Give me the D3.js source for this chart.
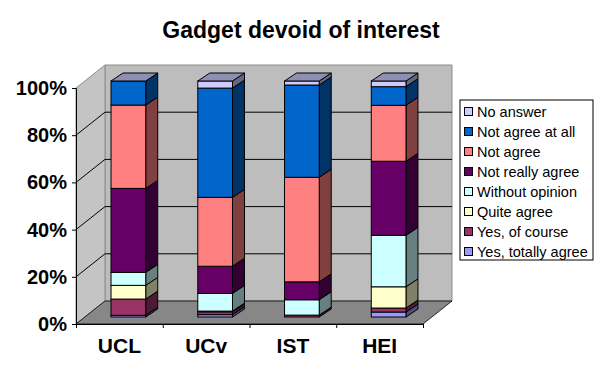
<!DOCTYPE html>
<html>
<head>
<meta charset="utf-8">
<script src="https://cdn.jsdelivr.net/npm/d3@7"></script>
<style>
  body { margin: 0; background: #fff; }
  svg { display: block; font-family: Arial, "Liberation Sans", sans-serif; }
</style>
</head>
<body>
<div id="chart"></div>
<script>
// categories and stacked series, bottom to top, in percent
var categories = ["UCL", "UCv", "IST", "HEI"];
var seriesNames = ["Yes, totally agree", "Yes, of course", "Quite agree", "Without opinion",
                   "Not really agree", "Not agree", "Not agree at all", "No answer"];
var yesTotally   = [0.7, 1.0, 0.0, 2.1];
var yesOfCourse  = [6.9, 1.2, 0.8, 1.7];
var quiteAgree   = [5.8, 0.3, 0.0, 9.0];
var noOpinion    = [5.5, 7.5, 6.5, 21.8];
var notReally    = [35.6, 11.5, 7.6, 31.4];
var notAgree     = [35.3, 29.2, 44.3, 23.7];
var notAtAll     = [10.2, 46.3, 39.1, 7.9];
var noAnswer     = [0.0, 3.0, 1.7, 2.4];
var seriesValues = [yesTotally, yesOfCourse, quiteAgree, noOpinion, notReally, notAgree, notAtAll, noAnswer];
var seriesColors = ["#9999FF", "#993366", "#FFFFCC", "#CCFFFF", "#660066", "#FF8080", "#0066CC", "#CCCCFF"];
var yTicks = [0, 20, 40, 60, 80, 100];

var width = 605, height = 376;
var svg = d3.select("#chart").append("svg").attr("width", width).attr("height", height);

var x = d3.scaleBand().domain(categories).range([76, 423]).paddingInner(0.6).paddingOuter(0.3);
var y = d3.scaleLinear().domain([0, 100]).range([324, 88]);
var xEdge = d3.scaleLinear().domain([0, categories.length]).range([76, 423]);

// depth offsets: wall back, bar front, bar back
var wallDx = 29, wallDy = -23;
var frontDx = 9, frontDy = -7;
var backDx = 21, backDy = -15;

function shade(c, k) {
  var r = d3.rgb(c);
  return d3.rgb(r.r * k, r.g * k, r.b * k).formatHex();
}
function pts(a) { return a.map(function (p) { return p.join(","); }).join(" "); }

var x0 = xEdge(0), x1 = xEdge(categories.length);

// walls and floor
var walls = svg.append("g");
walls.append("polygon")
  .attr("points", pts([[x0 + wallDx, y(100) + wallDy], [x1 + wallDx, y(100) + wallDy],
                       [x1 + wallDx, y(0) + wallDy], [x0 + wallDx, y(0) + wallDy]]))
  .attr("fill", "#bdbdbd").attr("stroke", "#8c8c8c");
walls.append("polygon")
  .attr("points", pts([[x0, y(100)], [x0 + wallDx, y(100) + wallDy],
                       [x0 + wallDx, y(0) + wallDy], [x0, y(0)]]))
  .attr("fill", "#c4c4c4").attr("stroke", "#8c8c8c");
walls.append("polygon")
  .attr("points", pts([[x0, y(0)], [x0 + wallDx, y(0) + wallDy],
                       [x1 + wallDx, y(0) + wallDy], [x1, y(0)]]))
  .attr("fill", "#878787").attr("stroke", "#000").attr("stroke-width", 0.8);

// gridlines on back and left walls
var grid = yTicks.filter(function (t) { return t > 0 && t < 100; });
walls.selectAll("line.gb").data(grid).enter().append("line")
  .attr("x1", x0 + wallDx).attr("x2", x1 + wallDx)
  .attr("y1", function (d) { return y(d) + wallDy; })
  .attr("y2", function (d) { return y(d) + wallDy; })
  .attr("stroke", "#000").attr("stroke-width", 1);
walls.selectAll("line.gl").data(grid).enter().append("line")
  .attr("x1", x0).attr("x2", x0 + wallDx)
  .attr("y1", function (d) { return y(d); })
  .attr("y2", function (d) { return y(d) + wallDy; })
  .attr("stroke", "#000").attr("stroke-width", 1);

// stacked 3D bars
var stackData = categories.map(function (c, i) {
  var o = { cat: c };
  seriesNames.forEach(function (s, j) { o[s] = seriesValues[j][i]; });
  return o;
});
var stacked = d3.stack().keys(seriesNames)(stackData);

var bars = svg.append("g");
categories.forEach(function (cat, i) {
  var g = bars.append("g");
  var xl = x(cat) + frontDx, xr = x(cat) + x.bandwidth() + frontDx;
  stacked.forEach(function (layer, j) {
    var d = layer[i];
    if (d[1] - d[0] <= 0) return;
    var ya = y(d[0]) + frontDy, yb = y(d[1]) + frontDy;
    var col = seriesColors[j];
    g.append("polygon")
      .attr("points", pts([[xr, ya], [xr, yb], [xr + backDx - frontDx, yb + backDy - frontDy],
                           [xr + backDx - frontDx, ya + backDy - frontDy]]))
      .attr("fill", shade(col, 0.5)).attr("stroke", "#000").attr("stroke-width", 1);
    g.append("rect")
      .attr("x", xl).attr("y", yb).attr("width", xr - xl).attr("height", ya - yb)
      .attr("fill", col).attr("stroke", "#000").attr("stroke-width", 1);
  });
  var top = y(100) + frontDy;
  var ddx = backDx - frontDx, ddy = backDy - frontDy;
  g.append("polygon")
    .attr("points", pts([[xl, top], [xr, top], [xr + ddx, top + ddy], [xl + ddx, top + ddy]]))
    .attr("fill", shade(seriesColors[seriesColors.length - 1], 0.7))
    .attr("stroke", "#000").attr("stroke-width", 1);
});

// axes
var yAxis = svg.append("g").attr("transform", "translate(" + x0 + ",0)")
  .call(d3.axisLeft(y).tickValues(yTicks).tickSize(4).tickPadding(5)
        .tickFormat(function (d) { return d + "%"; }));
yAxis.select(".domain").attr("stroke", "#000");
yAxis.selectAll("text").attr("font-size", 20).attr("font-weight", "bold")
  .attr("font-family", "Arial, 'Liberation Sans', sans-serif").attr("fill", "#000");

var xTicks = svg.append("g").attr("transform", "translate(0," + y(0) + ")")
  .call(d3.axisBottom(xEdge).tickValues(d3.range(categories.length + 1)).tickSize(4)
        .tickFormat(""));
xTicks.select(".domain").attr("stroke", "#000");

var xAxis = svg.append("g").attr("transform", "translate(0," + y(0) + ")")
  .call(d3.axisBottom(x).tickSize(0).tickPadding(14));
xAxis.select(".domain").remove();
xAxis.selectAll("text").attr("font-size", 21).attr("font-weight", "bold")
  .attr("font-family", "Arial, 'Liberation Sans', sans-serif").attr("fill", "#000");

// title
svg.append("text").attr("x", 301).attr("y", 38).attr("text-anchor", "middle")
  .attr("font-size", 23).attr("font-weight", "bold").text("Gadget devoid of interest");

// legend
var legend = svg.append("g").attr("transform", "translate(460,100)");
legend.append("rect").attr("width", 133).attr("height", 160)
  .attr("fill", "#fff").attr("stroke", "#000").attr("stroke-width", 1);
var order = d3.range(seriesNames.length).reverse();
var item = legend.selectAll("g.item").data(order).enter().append("g")
  .attr("transform", function (d, k) { return "translate(0," + (12 + k * 20) + ")"; });
item.append("rect").attr("x", 4.5).attr("y", -4.5).attr("width", 8).attr("height", 8)
  .attr("fill", function (d) { return seriesColors[d]; }).attr("stroke", "#000");
item.append("text").attr("x", 17).attr("y", 5).attr("font-size", 14.5)
  .text(function (d) { return seriesNames[d]; });
</script>
</body>
</html>
